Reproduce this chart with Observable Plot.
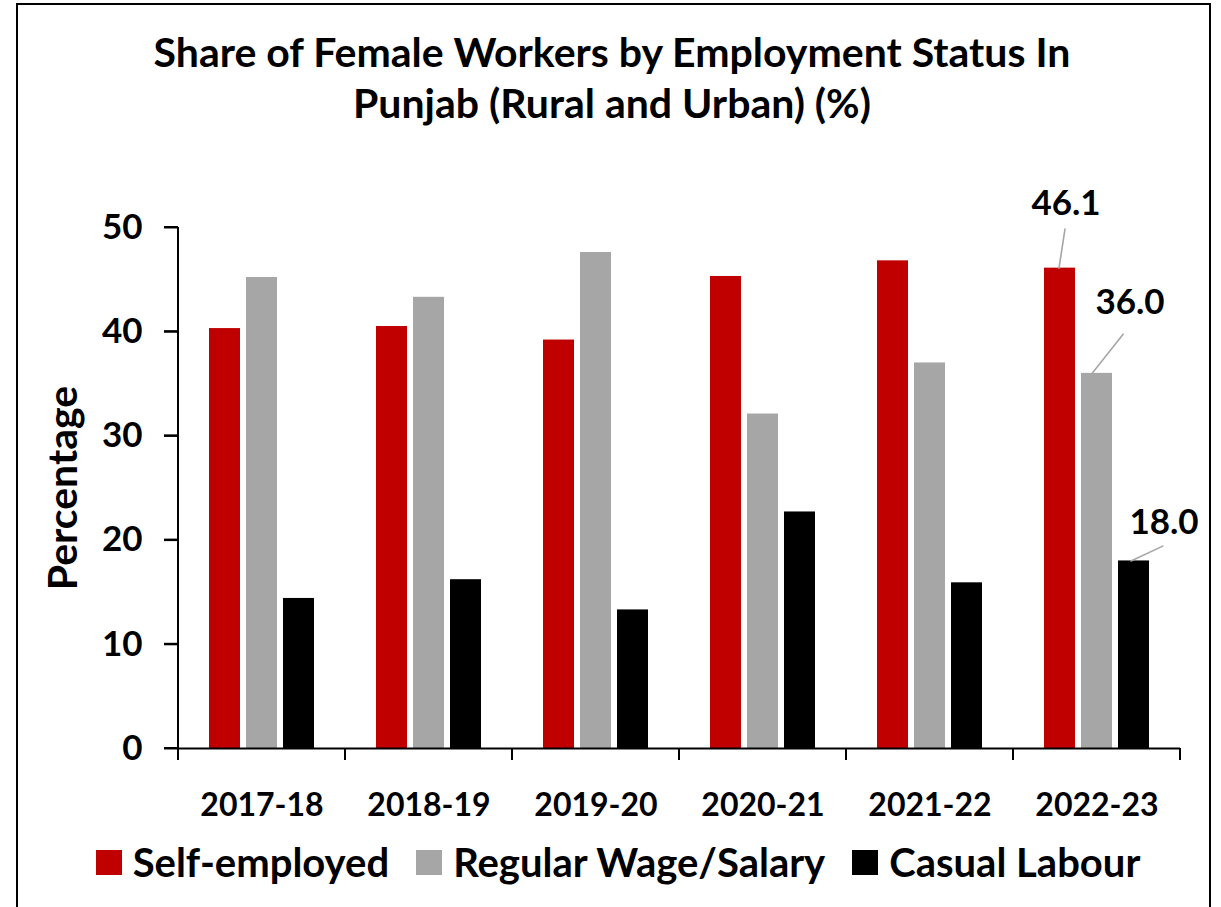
<!DOCTYPE html>
<html><head><meta charset="utf-8">
<script src="https://cdn.jsdelivr.net/npm/d3@7"></script>
<script src="https://cdn.jsdelivr.net/npm/@observablehq/plot@0.6"></script>
<style>
html,body{margin:0;padding:0;background:#fff;overflow:hidden;width:1221px;height:907px;}
body{font-family:Lato,"Open Sans",sans-serif;font-weight:700;color:#000;position:relative;}
#frame{position:absolute;left:16px;top:3px;width:1191px;height:930px;border:2px solid #000;border-bottom:none;box-sizing:content-box;}
#title{position:absolute;left:0;top:26px;width:1224px;text-align:center;font-size:41px;line-height:51px;}
#chart{position:absolute;left:0;top:150px;}
#ylabel{position:absolute;left:61px;top:488px;transform:translate(-50%,-50%) rotate(-90deg);font-size:41px;white-space:nowrap;}
#legend{position:absolute;left:0;top:842px;width:1236px;height:40px;display:flex;justify-content:center;align-items:center;font-size:40px;}
.item{display:flex;align-items:center;margin-right:27px;}
.item:last-child{margin-right:0;}
.sw{width:26px;height:25px;margin-right:11px;}
</style></head>
<body>
<div id="frame"></div>
<div id="title">Share of Female Workers by Employment Status In<br>Punjab (Rural and Urban) (%)</div>
<div id="chart"></div>
<div id="ylabel">Percentage</div>
<div id="legend"></div>
<script>
const years = ["2017-18","2018-19","2019-20","2020-21","2021-22","2022-23"];
const seriesNames = ["Self-employed","Regular Wage/Salary","Casual Labour"];
const selfEmployed = [40.3, 40.5, 39.2, 45.3, 46.8, 46.1];
const regularWage = [45.2, 43.3, 47.6, 32.1, 37.0, 36.0];
const casualLabour = [14.4, 16.2, 13.3, 22.7, 15.9, 18.0];
const yTicks = [0, 10, 20, 30, 40, 50];
const seriesColors = ["#C00000", "#A6A6A6", "#000000"];
const labelledYear = "2022-23";

const seriesValues = [selfEmployed, regularWage, casualLabour];
const rows = [];
years.forEach((yr, i) => {
  seriesNames.forEach((s, j) => rows.push({year: yr, series: s, value: seriesValues[j][i]}));
});
const labelRows = rows.filter(d => d.year === labelledYear);

// label/leader placement (styling, in pixels)
const place = {
  "Self-employed":       {tx: 6,  ty: -64, lx: -1, len: 39.5, rot: 8.7},
  "Regular Wage/Salary": {tx: 33, ty: -71, lx: -5, len: 50,   rot: 38.5},
  "Casual Labour":       {tx: 30, ty: -38, lx: -3, len: 35,   rot: 65}
};
const leader = {draw(context, l) { context.moveTo(0, 0); context.lineTo(0, -l); }};

const annotationMarks = labelRows.flatMap(d => {
  const p = place[d.series];
  return [
    Plot.vector([d], {fx: "year", x: "series", y: "value", length: p.len, rotate: p.rot,
      anchor: "start", shape: leader, stroke: "#A6A6A6", strokeWidth: 1.6, dx: p.lx}),
    Plot.text([d], {fx: "year", x: "series", y: "value", text: v => v.value.toFixed(1),
      dx: p.tx, dy: p.ty, fontSize: 35, fontWeight: 700, fill: "#000", lineAnchor: "middle"})
  ];
});

const chart = Plot.plot({
  width: 1221, height: 690,
  marginLeft: 178, marginRight: 41, marginTop: 77, marginBottom: 92,
  style: {fontFamily: "Lato, 'Open Sans', sans-serif", fontWeight: 700, color: "#000", background: "transparent", overflow: "visible"},
  fx: {domain: years, padding: 0, label: null},
  x: {domain: seriesNames, paddingInner: 0.158, paddingOuter: 0.777, axis: null},
  y: {domain: [0, 50], label: null, axis: null},
  color: {domain: seriesNames, range: seriesColors},
  marks: [
    Plot.barY(rows, {fx: "year", x: "series", y: "value", fill: "series"}),
    Plot.ruleY([0], {stroke: "#000", strokeWidth: 2}),
    Plot.axisY({ticks: yTicks, tickSize: 14, tickPadding: 22, fontSize: 35, stroke: "#000", strokeWidth: 2, strokeOpacity: 1, label: null, tickFormat: d => String(d)}),
    Plot.axisFx({anchor: "bottom", tickSize: 0, tickPadding: 45, fontSize: 32, label: null}),
    ...annotationMarks
  ]
});

const fx = chart.scale("fx"), y = chart.scale("y");
const x0 = fx.apply(years[0]);
const edges = years.map(d => fx.apply(d)).concat([fx.apply(years[years.length - 1]) + fx.bandwidth]);
const y0 = y.apply(0), yTop = y.apply(yTicks[yTicks.length - 1]);
const g = d3.select(chart).append("g").attr("stroke", "#000").attr("stroke-width", 2);
g.selectAll("line.xt").data(edges).join("line").attr("class", "xt")
  .attr("x1", d => d).attr("x2", d => d).attr("y1", y0).attr("y2", y0 + 12);
g.append("line").attr("x1", x0).attr("x2", x0).attr("y1", yTop).attr("y2", y0);
g.selectAll("line.yt").data(yTicks).join("line").attr("class", "yt")
  .attr("x1", x0 - 14).attr("x2", x0).attr("y1", d => y.apply(d)).attr("y2", d => y.apply(d));

document.getElementById("chart").appendChild(chart);

const legend = d3.select("#legend");
seriesNames.forEach((s, i) => {
  const it = legend.append("div").attr("class", "item");
  it.append("div").attr("class", "sw").style("background", seriesColors[i]);
  it.append("span").text(s);
});
</script>
</body></html>
